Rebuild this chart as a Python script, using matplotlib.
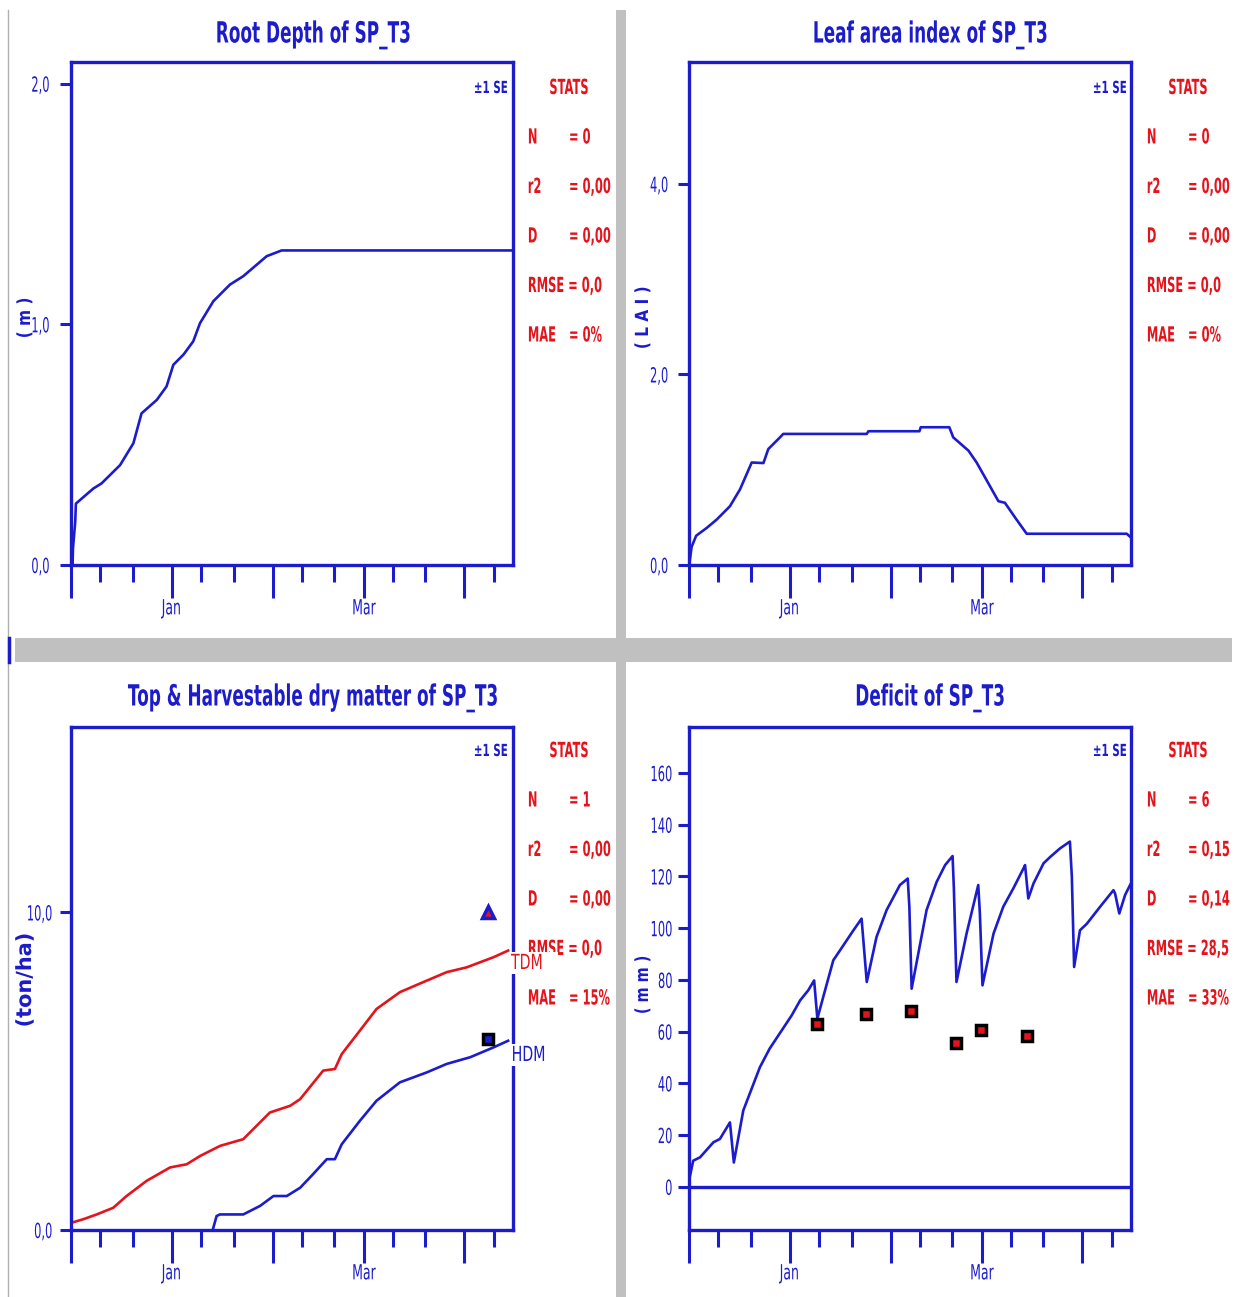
import matplotlib
matplotlib.use("Agg")
import matplotlib.pyplot as plt
from matplotlib.lines import Line2D
from matplotlib.patches import Rectangle
from matplotlib.patheffects import AbstractPathEffect
from matplotlib.transforms import Affine2D

# ---------------- data (x = days since 1 Dec) ----------------
month_ticks = [0, 31, 62, 90, 121]
month_labels = ["", "Jan", "", "Mar", ""]
minor_ticks = [9, 19, 40, 50, 71, 81, 99, 109, 130]

root_day = [0, 0.5, 0.6, 1.3, 1.5, 6.9, 9.4, 15.1, 19.2, 21.7, 26.4, 29.4, 31.5, 34.6,
            37.6, 39.7, 43.8, 48.9, 53.0, 60.2, 64.8, 136]
root_val = [0, 0.005, 0.068, 0.18, 0.255, 0.318, 0.339, 0.415, 0.506, 0.63, 0.686, 0.742,
            0.832, 0.874, 0.929, 1.005, 1.096, 1.165, 1.2, 1.283, 1.307, 1.307]

lai_day = [0, 0.1, 0.8, 2.2, 5.4, 8.5, 12.6, 15.7, 19.3, 22.9, 24.4, 28.0, 29.0, 54.7, 55.2,
           70.9, 71.3, 80.1, 81.3, 86.0, 88.5, 95.2, 97.2, 100.8, 103.9, 134.7, 136.2]
lai_val = [0, 0.01, 0.19, 0.307, 0.388, 0.476, 0.617, 0.794, 1.076, 1.07, 1.217, 1.34, 1.376,
           1.376, 1.404, 1.404, 1.446, 1.446, 1.34, 1.2, 1.076, 0.67, 0.653, 0.476, 0.328,
           0.328, 0.282]

tdm_day = [0.2, 3.8, 7.9, 13.0, 17.1, 23.3, 30.5, 35.6, 39.7, 45.9, 53.0, 61.2, 67.4, 70.5,
           77.6, 81.2, 83.3, 88.9, 94.0, 101.2, 109.4, 115.6, 121.7, 130.0, 134.5]
tdm_val = [0.23, 0.34, 0.49, 0.70, 1.07, 1.55, 1.97, 2.07, 2.33, 2.65, 2.86, 3.70, 3.91, 4.12,
           5.02, 5.07, 5.54, 6.28, 6.96, 7.49, 7.85, 8.12, 8.27, 8.59, 8.80]

hdm_day = [43.6, 44.8, 45.8, 53.0, 58.2, 62.3, 66.4, 70.5, 74.5, 78.7, 81.2, 83.3, 88.9, 94.0,
           101.2, 109.4, 115.6, 122.8, 130.0, 134.5]
hdm_val = [0.0, 0.44, 0.49, 0.49, 0.76, 1.07, 1.07, 1.33, 1.76, 2.23, 2.23, 2.70, 3.44, 4.07,
           4.65, 4.96, 5.23, 5.44, 5.75, 5.96]
tdm_obs_day, tdm_obs_val = [128.4], [10.0]
hdm_obs_day, hdm_obs_val = [128.4], [6.0]

def_day = [0.1, 1.3, 3.4, 7.5, 9.5, 12.6, 13.8, 16.7, 21.8, 24.8, 31.6, 34.2, 36.7, 38.5,
           39.5, 41.3, 44.4, 46.5, 50.6, 53.1, 54.7, 57.7, 60.8, 64.9, 67.3, 67.8, 68.5,
           73.1, 76.2, 78.8, 81.1, 81.5, 82.3, 85.4, 89.0, 89.5, 90.3, 93.7, 96.7, 99.8,
           102.9, 103.4, 104.4, 106.0, 109.1, 111.1, 114.2, 117.2, 117.8, 118.5, 120.3,
           122.4, 126.5, 130.6, 131.1, 132.4, 134.2, 136.2]
def_val = [3.0, 10.1, 11.4, 17.2, 18.5, 24.9, 9.4, 29.5, 46.2, 53.4, 66.3, 72.1, 76.0, 79.8,
           65.0, 73.4, 87.6, 91.5, 99.2, 103.7, 79.2, 96.6, 107.0, 116.7, 119.2, 108.3, 76.6,
           107.0, 117.9, 124.4, 127.9, 115.4, 79.2, 97.9, 116.7, 105.7, 77.9, 97.9, 108.3,
           115.4, 123.1, 124.4, 111.5, 117.3, 125.1, 127.5, 130.9, 133.5, 119.9, 85.0, 99.2,
           101.7, 108.3, 114.7, 113.4, 105.7, 112.9, 117.9]
def_obs_day = [39.5, 54.4, 68.2, 82.1, 89.9, 103.9]
def_obs_val = [63.1, 66.8, 67.9, 55.8, 60.7, 58.3]

titles = ["Root Depth of SP_T3", "Leaf area index of SP_T3",
          "Top & Harvestable dry matter of SP_T3", "Deficit of SP_T3"]
ylabels = ["( m )", "( L A I )", "(ton/ha)", "( m m )"]
stat_names = ["N", "r2", "D", "RMSE", "MAE"]
stats_root = ["0", "0,00", "0,00", "0,0", "0%"]
stats_lai = ["0", "0,00", "0,00", "0,0", "0%"]
stats_dm = ["1", "0,00", "0,00", "0,0", "15%"]
stats_def = ["6", "0,15", "0,14", "28,5", "33%"]

root_yticks, root_ylabels = [0, 1, 2], ["0,0", "1,0", "2,0"]
lai_yticks, lai_ylabels = [0, 2, 4], ["0,0", "2,0", "4,0"]
dm_yticks, dm_ylabels = [0, 10], ["0,0", "10,0"]
def_yticks = [0, 20, 40, 60, 80, 100, 120, 140, 160]
def_ylabels = [str(v) for v in def_yticks]

# ---------------- style ----------------
W, H = 1236, 1297
BLUE = "#1c1ccc"
RED = "#e4141c"
GRAY = "#c0c0c0"
plt.rcParams["font.family"] = ["DejaVu Sans"]


class Narrow(AbstractPathEffect):
    """Draw text glyphs squeezed horizontally (condensed look)."""

    def __init__(self, sx, anchor="left"):
        super().__init__()
        self.sx = sx
        self.anchor = anchor

    def draw_path(self, renderer, gc, tpath, affine, rgbFace=None):
        ext = tpath.get_extents()
        if self.anchor == "center":
            c = (ext.x0 + ext.x1) / 2
        elif self.anchor == "right":
            c = ext.x1
        else:
            c = ext.x0
        pre = Affine2D().translate(-c, 0).scale(self.sx, 1).translate(c, 0)
        renderer.draw_path(gc, tpath, pre + affine, rgbFace)


fig = plt.figure(figsize=(W / 100, H / 100), dpi=100)
fig.patch.set_facecolor("white")


def fx(px):
    return px / W


def fy(py):
    return 1 - py / H


def ftext(x, y, s, sx, anchor="left", **kw):
    ha = kw.pop("ha", anchor)
    t = fig.text(fx(x), fy(y), s, ha=ha, **kw)
    t.set_path_effects([Narrow(sx, anchor)])
    return t


# panel separators
fig.add_artist(Rectangle((fx(616), fy(1297)), 10 / W, (1297 - 10) / H,
                         transform=fig.transFigure, color=GRAY, lw=0))
fig.add_artist(Rectangle((fx(15), fy(662)), (1232 - 15) / W, 24 / H,
                         transform=fig.transFigure, color=GRAY, lw=0))
fig.add_artist(Line2D([fx(8), fx(8)], [fy(10), fy(1297)], transform=fig.transFigure,
                      color="#b0b0b0", lw=1))
fig.add_artist(Line2D([fx(9), fx(9)], [fy(638), fy(662)], transform=fig.transFigure,
                      color=BLUE, lw=2.5))


def make_axes(left, top, ylim, yticks, yticklabels, ypad=4.5):
    right, bottom = left + 442, top + 503
    ax = fig.add_axes([fx(left), fy(bottom), (right - left) / W, (bottom - top) / H])
    ax.set_xlim(0, 136)
    ax.set_ylim(*ylim)
    for s in ax.spines.values():
        s.set_color(BLUE)
        s.set_linewidth(2.4)
    ax.set_xticks(month_ticks)
    ax.set_xticklabels(month_labels)
    ax.set_xticks(minor_ticks, minor=True)
    ax.set_yticks(yticks)
    ax.set_yticklabels(yticklabels)
    ax.tick_params(axis="x", which="major", length=24, width=2.2, color=BLUE,
                   labelcolor=BLUE, labelsize=15, pad=0)
    ax.tick_params(axis="x", which="minor", length=12, width=2.2, color=BLUE)
    ax.tick_params(axis="y", which="major", length=8, width=2.2, color=BLUE,
                   labelcolor=BLUE, labelsize=15, pad=ypad)
    for lab in ax.get_xticklabels():
        lab.set_path_effects([Narrow(0.6, "center")])
    for lab in ax.get_yticklabels():
        lab.set_path_effects([Narrow(0.55, "right")])
    return ax


def stats_block(x0, y0, values):
    ftext(x0 - 19, y0, "±1 SE", 0.62, "right", color=BLUE, fontsize=12,
          fontweight="bold", va="center")
    ftext(x0 + 42, y0, "STATS", 0.55, "center", color=RED, fontsize=15,
          fontweight="bold", va="center")
    for i, (name, val) in enumerate(zip(stat_names, values)):
        yy = y0 + 49.5 * (i + 1)
        if name == "RMSE":
            ftext(x0, yy, "RMSE = " + val, 0.55, "left", color=RED, fontsize=15,
                  fontweight="bold", va="center")
        else:
            ftext(x0, yy, name, 0.55, "left", color=RED, fontsize=15,
                  fontweight="bold", va="center")
            ftext(x0 + 41, yy, "= " + val, 0.55, "left", color=RED, fontsize=15,
                  fontweight="bold", va="center")


def title(x, y, s):
    ftext(x, y, s, 0.58, "center", color=BLUE, fontsize=21, fontweight="bold",
          va="center")


def ylab(x, y, s, sx, size=13):
    ftext(x, y, s, sx, "center", color=BLUE, fontsize=size, fontweight="bold",
          rotation=90, va="center", rotation_mode="anchor")


LW = 1.9

# ---- Root depth ----
ax1 = make_axes(71, 62, (0, 2.09), root_yticks, root_ylabels, ypad=7)
ax1.plot(root_day, root_val, color=BLUE, lw=LW)
title(313, 35, titles[0])
ylab(25, 318, ylabels[0], 0.85)
stats_block(527, 88, stats_root)

# ---- LAI ----
ax2 = make_axes(689, 62, (0, 5.28), lai_yticks, lai_ylabels, ypad=6.5)
ax2.plot(lai_day, lai_val, color=BLUE, lw=LW)
title(930, 35, titles[1])
ylab(643, 318, ylabels[1], 0.85)
stats_block(1146, 88, stats_lai)

# ---- Dry matter ----
ax3 = make_axes(71, 727, (0, 15.84), dm_yticks, dm_ylabels, ypad=5)
ax3.plot(tdm_day, tdm_val, color=RED, lw=LW)
ax3.plot(hdm_day, hdm_val, color=BLUE, lw=LW)
ax3.plot(tdm_obs_day, tdm_obs_val, ls="none", marker="^", ms=8, mfc=RED, mec=BLUE, mew=2.5)
ax3.plot(hdm_obs_day, hdm_obs_val, ls="none", marker="s", ms=7, mfc=BLUE, mec="black", mew=2.5)
title(313, 698, titles[2])
ylab(25, 980, ylabels[2], 1.0, size=15)
stats_block(527, 751, stats_dm)
t1 = ftext(511, 963, "TDM", 0.68, "left", color=RED, fontsize=15, va="center",
           zorder=10, bbox=dict(facecolor="white", edgecolor="none", pad=0.5))
t2 = ftext(511, 1055, "HDM", 0.68, "left", color=BLUE, fontsize=15, va="center",
           zorder=10, bbox=dict(facecolor="white", edgecolor="none", pad=0.5))

# ---- Deficit ----
ax4 = make_axes(689, 727, (-16.7, 177.8), def_yticks, def_ylabels, ypad=3.5)
ax4.axhline(0, color=BLUE, lw=2.4)
ax4.plot(def_day, def_val, color=BLUE, lw=LW)
ax4.plot(def_obs_day, def_obs_val, ls="none", marker="s", ms=7, mfc=RED, mec="black", mew=2.5)
title(930, 698, titles[3])
ylab(643, 985, ylabels[3], 0.8)
stats_block(1146, 751, stats_def)

fig.savefig("out.png", dpi=100, facecolor="white")
